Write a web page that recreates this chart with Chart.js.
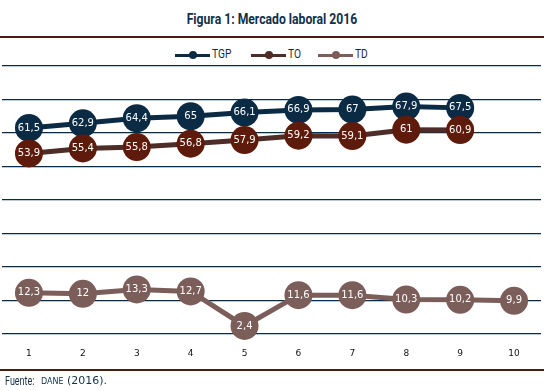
<!DOCTYPE html>
<html lang="es">
<head>
<meta charset="UTF-8">
<title>Figura 1: Mercado laboral 2016</title>
<script src="https://cdn.jsdelivr.net/npm/chart.js"></script>
<style>
  body { margin: 0; width: 544px; height: 391px; position: relative; background: #fff; overflow: hidden; font-family: Roboto, sans-serif; }
  #titulo { position: absolute; top: 11px; left: 0; width: 544px; text-align: center; color: #12304a; font-size: 14px; font-weight: bold; transform: scaleX(0.87); }
  .regla { position: absolute; left: 0; width: 544px; height: 2px; background: #4a1c12; }
  #leyenda { position: absolute; top: 47px; left: 0; width: 544px; height: 16px; font-size: 12px; color: #1a2a3a; }
  .item { position: absolute; top: 0; height: 16px; }
  .linea { position: absolute; top: 7px; left: 0; width: 35px; height: 3px; }
  .punto { position: absolute; top: 4px; left: 14px; width: 8px; height: 8px; border-radius: 50%; }
  .txt { position: absolute; top: 0; left: 37px; transform: scaleX(0.85); transform-origin: left center; }
  #caja { position: absolute; top: 60px; left: 0; width: 544px; height: 310px; }
  #fuente { position: absolute; top: 374px; left: 5px; font-size: 12px; color: #12304a; white-space: nowrap; }
  #fuente .f { position: absolute; left: 0; top: 0; transform: scaleX(0.75); transform-origin: left center; }
  #fuente .d { position: absolute; left: 36px; top: 0; font-family: "DejaVu Sans", sans-serif; font-variant: small-caps; font-size: 11px; }
</style>
</head>
<body>
<div id="titulo">Figura 1: Mercado laboral 2016</div>
<div class="regla" style="top:36px"></div>
<div id="leyenda"></div>
<div id="caja"><canvas id="grafico"></canvas></div>
<div class="regla" style="top:369px"></div>
<div id="fuente"><span class="f">Fuente:</span><span class="d">dane (2016).</span></div>

<script>
// Datos
const periodos = ['1', '2', '3', '4', '5', '6', '7', '8', '9', '10'];
const tgp = [61.5, 62.9, 64.4, 65, 66.1, 66.9, 67, 67.9, 67.5, null];
const to = [53.9, 55.4, 55.8, 56.8, 57.9, 59.2, 59.1, 61, 60.9, null];
const td = [12.3, 12, 13.3, 12.7, 2.4, 11.6, 11.6, 10.3, 10.2, 9.9];

const series = [
  { nombre: 'TGP', datos: tgp, linea: '#0b2a44', punto: '#0b2a44', x: 175 },
  { nombre: 'TO', datos: to, linea: '#4e2c27', punto: '#5e1a0a', x: 251 },
  { nombre: 'TD', datos: td, linea: '#7b5e5a', punto: '#7b5e5a', x: 318 }
];

// leyenda html
const ley = document.getElementById('leyenda');
series.forEach(s => {
  const d = document.createElement('div');
  d.className = 'item';
  d.style.left = s.x + 'px';
  d.innerHTML = '<div class="linea" style="background:' + s.linea + '"></div>' +
    '<div class="punto" style="background:' + s.linea + '"></div>' +
    '<div class="txt">' + s.nombre + '</div>';
  ley.appendChild(d);
});

// etiquetas dentro de los puntos
const etiquetas = {
  id: 'etiquetas',
  afterDatasetsDraw(chart) {
    const ctx = chart.ctx;
    ctx.save();
    ctx.fillStyle = '#ffffff';
    ctx.font = '10px "DejaVu Sans", sans-serif';
    ctx.textAlign = 'center';
    ctx.textBaseline = 'middle';
    chart.data.datasets.forEach((ds, i) => {
      chart.getDatasetMeta(i).data.forEach((p, j) => {
        const v = ds.data[j];
        if (v === null) return;
        ctx.fillText(String(v).replace('.', ','), p.x, p.y);
      });
    });
    ctx.restore();
  }
};

new Chart(document.getElementById('grafico'), {
  type: 'line',
  data: {
    labels: periodos,
    datasets: series.slice().reverse().map(s => ({
      label: s.nombre,
      data: s.datos,
      borderColor: s.linea,
      backgroundColor: s.punto,
      pointBackgroundColor: s.punto,
      pointBorderWidth: 0,
      pointRadius: 14,
      pointHoverRadius: 14,
      borderWidth: 5,
      tension: 0,
      clip: false
    }))
  },
  options: {
    responsive: true,
    maintainAspectRatio: false,
    animation: false,
    events: [],
    layout: { autoPadding: false, padding: { top: 6, left: 2, right: 3, bottom: 0 } },
    plugins: { legend: { display: false }, tooltip: { enabled: false } },
    scales: {
      x: {
        offset: true,
        grid: { display: false, drawTicks: false },
        border: { display: false },
        ticks: { color: '#111', font: { family: 'DejaVu Sans', size: 9 }, padding: 14 },
        afterFit(scale) { scale.height = 36; }
      },
      y: {
        min: 0,
        max: 80,
        ticks: { stepSize: 10, display: false },
        grid: { color: '#0b2a44', lineWidth: 1.3, drawTicks: false },
        border: { display: false },
        afterFit(scale) { scale.width = 0; }
      }
    }
  },
  plugins: [etiquetas]
});
</script>
</body>
</html>
